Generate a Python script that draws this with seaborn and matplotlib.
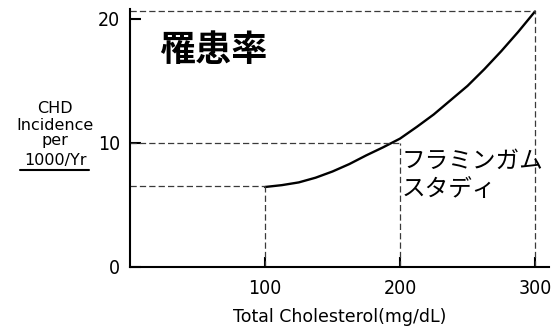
import matplotlib
matplotlib.use("Agg")
import matplotlib.pyplot as plt
from matplotlib.lines import Line2D
import seaborn as sns
import pandas as pd

# Data
cholesterol = [100, 112.5, 125, 137.5, 150, 162.5, 175, 187.5, 200,
               212.5, 225, 237.5, 250, 262.5, 275, 287.5, 300]
incidence = [6.45, 6.6, 6.82, 7.2, 7.7, 8.3, 9.0, 9.65, 10.35,
             11.3, 12.3, 13.45, 14.6, 15.95, 17.4, 18.95, 20.6]
ref_x = [100, 200, 300]
ref_y = [6.5, 10, 20.6]
x_ticks = [100, 200, 300]
y_ticks = [0, 10, 20]
title_text = "罹患率"
study_lines = ["フラミンガム", "スタディ"]
x_label = "Total Cholesterol(mg/dL)"
y_label_lines = ["CHD", "Incidence", "per", "1000/Yr"]

sns.set_style("ticks")
plt.rcParams['font.family'] = ['DejaVu Sans', 'Noto Sans CJK JP']
plt.rcParams['text.color'] = 'black'
plt.rcParams['axes.labelcolor'] = 'black'
plt.rcParams['xtick.color'] = 'black'
plt.rcParams['ytick.color'] = 'black'

W, H = 559, 326
fig = plt.figure(figsize=(W / 100, H / 100), dpi=100)
ax = fig.add_axes([130 / W, (H - 267) / H, 418.5 / W, 258 / H])

df = pd.DataFrame({"chol": cholesterol, "inc": incidence})
sns.lineplot(data=df, x="chol", y="inc", ax=ax, color="black", linewidth=1.7)

dash_kw = dict(color="#3a3a3a", linewidth=0.9, linestyle=(0, (5, 2.5)))
for xv, yv in zip(ref_x, ref_y):
    ax.plot([0, xv], [yv, yv], **dash_kw)
    ax.plot([xv, xv], [0, yv], **dash_kw)

ax.set_xlim(0, 310)
ax.set_ylim(0, 20.8)
ax.set_xticks(x_ticks)
ax.set_yticks(y_ticks)
ax.set_xticklabels([str(v) for v in x_ticks], fontsize=14, fontstretch='condensed')
ax.set_yticklabels([str(v) for v in y_ticks], fontsize=14, fontstretch='condensed')
ax.tick_params(axis="x", direction="in", length=7, width=1.5, pad=9)
ax.tick_params(axis="y", direction="in", length=8, width=1.5, pad=7)
sns.despine(ax=ax)
for s in ["left", "bottom"]:
    ax.spines[s].set_linewidth(1.5)
    ax.spines[s].set_color("black")

ax.set_xlabel(x_label, fontsize=12.5, labelpad=7)
ax.set_ylabel("")

baselines = [113, 130, 145, 165]
for txt, yy in zip(y_label_lines, baselines):
    fig.text(55 / W, 1 - yy / H, txt, ha="center", va="baseline", fontsize=11.5)
fig.add_artist(Line2D([20 / W, 89 / W], [1 - 170 / H, 1 - 170 / H],
                      color="black", linewidth=1.5, transform=fig.transFigure))

fig.text(159 / W, 1 - 50 / H, title_text, ha="left", va="center",
         fontsize=26, fontweight="bold", family=['Noto Sans CJK JP'])
for txt, yy in zip(study_lines, [161, 189]):
    fig.text(402 / W, 1 - yy / H, txt, ha="left", va="center",
             fontsize=17, family=['Noto Sans CJK JP'])

fig.savefig("out.png", dpi=100)
